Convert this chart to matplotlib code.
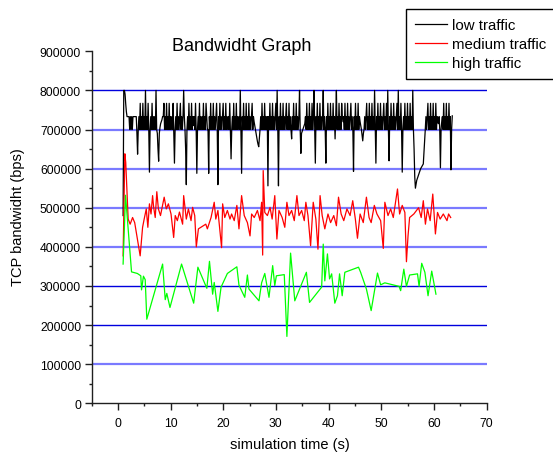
import numpy as np
import matplotlib
matplotlib.use("Agg")
import matplotlib.pyplot as plt
from matplotlib.ticker import MultipleLocator, FuncFormatter

plt.rcParams['font.family'] = ['Liberation Sans', 'DejaVu Sans']

# ---------------- data ----------------
series_names = ["low traffic", "medium traffic", "high traffic"]

# low traffic: sampled every 0.125 s from 1.0 s to 63.5 s (values in kbps)
low_t_start, low_t_step = 1.0, 0.125
low_kbps = [
    480, 800, 800, 790, 765, 745, 733, 733, 733, 733, 700, 733, 700, 733, 700, 733, 733, 733, 733, 733,
    733, 690, 637, 700, 733, 700, 767, 700, 733, 700, 767, 700, 733, 700, 800, 700, 733, 700, 767, 700,
    591, 700, 733, 700, 767, 700, 733, 700, 733, 700, 800, 700, 690, 650, 619, 690, 705, 715, 720, 725,
    733, 733, 767, 700, 733, 700, 767, 700, 733, 700, 767, 700, 733, 700, 733, 700, 767, 690, 614, 700,
    733, 700, 767, 700, 733, 700, 733, 767, 700, 733, 700, 733, 800, 733, 700, 650, 559, 700, 733, 700,
    767, 700, 733, 700, 767, 700, 733, 710, 733, 700, 767, 700, 588, 700, 733, 700, 767, 700, 733, 700,
    733, 700, 767, 700, 733, 700, 767, 733, 700, 700, 588, 733, 700, 767, 700, 733, 700, 767, 700, 733,
    700, 733, 767, 700, 559, 733, 700, 767, 700, 733, 700, 733, 767, 700, 733, 700, 767, 700, 733, 700,
    733, 700, 767, 690, 625, 700, 733, 700, 767, 700, 733, 700, 767, 700, 733, 700, 733, 700, 800, 700,
    588, 733, 700, 767, 700, 733, 700, 767, 700, 733, 700, 767, 700, 733, 700, 733, 767, 700, 733, 720,
    710, 700, 690, 680, 670, 662, 656, 680, 700, 733, 700, 767, 700, 733, 700, 767, 700, 733, 700, 733,
    556, 733, 700, 767, 700, 733, 700, 767, 700, 733, 700, 733, 767, 700, 800, 700, 556, 733, 700, 767,
    700, 733, 700, 767, 700, 733, 700, 733, 767, 700, 733, 700, 767, 700, 733, 700, 676, 733, 700, 767,
    700, 733, 700, 767, 700, 733, 700, 733, 800, 700, 639, 690, 695, 700, 705, 710, 715, 733, 700, 767,
    700, 733, 700, 767, 700, 733, 700, 767, 700, 733, 800, 700, 614, 733, 700, 767, 700, 733, 700, 767,
    700, 733, 700, 733, 800, 700, 733, 700, 614, 733, 700, 767, 700, 733, 700, 767, 700, 733, 700, 767,
    700, 733, 676, 733, 800, 700, 733, 700, 767, 700, 733, 700, 767, 733, 720, 733, 700, 767, 700, 733,
    700, 767, 700, 733, 700, 733, 767, 700, 733, 700, 593, 733, 700, 767, 700, 733, 700, 767, 700, 733,
    720, 710, 700, 685, 671, 690, 700, 733, 700, 733, 767, 700, 733, 700, 767, 700, 733, 700, 767, 700,
    733, 700, 800, 700, 614, 733, 700, 767, 700, 733, 700, 767, 700, 733, 700, 733, 767, 700, 733, 700,
    767, 700, 800, 700, 620, 733, 700, 767, 700, 733, 700, 767, 700, 733, 700, 733, 767, 700, 800, 700,
    733, 700, 767, 700, 591, 700, 733, 700, 767, 700, 733, 700, 767, 700, 733, 700, 767, 700, 733, 700,
    800, 700, 650, 580, 550, 560, 570, 575, 580, 585, 590, 595, 600, 603, 606, 609, 612, 640, 670, 700,
    733, 700, 733, 767, 700, 733, 700, 767, 700, 733, 700, 767, 700, 733, 700, 767, 700, 733, 720, 715,
    733, 700, 602, 700, 720, 733, 700, 767, 700, 733, 700, 767, 700, 733, 700, 767, 700, 733, 597, 700,
    735,
]

medium_t = [
    1.0, 1.33, 1.5, 1.96, 2.34, 2.8, 3.2, 4.24, 4.7, 5.0, 5.4, 5.7, 6.0, 6.3, 6.6, 6.8, 7.1, 7.4, 7.7, 8.1,
    8.8, 9.2, 9.6, 10.1, 10.6, 10.9, 11.3, 11.7, 12.3, 12.5, 13.0, 13.4, 13.9, 14.2, 14.6, 14.9, 15.3, 16.7,
    17.0, 17.7, 18.3, 18.6, 19.0, 19.7, 19.9, 20.3, 20.8, 21.3, 21.6, 22.1, 22.6, 23.0, 23.5, 24.0, 24.6,
    25.1, 25.4, 25.9, 26.5, 27.0, 27.3, 27.5, 27.6, 27.9, 28.4, 28.9, 29.3, 29.8, 30.2, 30.6, 31.2, 31.7,
    32.1, 32.5, 33.0, 33.5, 34.0, 34.4, 34.9, 35.4, 35.7, 36.1, 36.6, 37.1, 37.6, 38.0, 38.4, 38.8, 39.3,
    39.9, 40.4, 41.0, 41.5, 41.9, 42.4, 42.9, 43.5, 44.1, 44.6, 45.1, 45.5, 46.0, 46.6, 47.2, 47.7, 48.1,
    48.7, 49.2, 49.9, 50.4, 50.7, 51.3, 51.8, 52.3, 53.1, 53.5, 54.0, 54.5, 54.8, 55.1, 55.4, 56.2, 57.1,
    57.6, 58.0, 58.4, 58.8, 59.3, 59.8, 60.3, 60.7, 61.2, 61.8, 62.5, 62.8, 63.2,
]
medium_kbps = [
    377, 638, 616, 471, 458, 475, 462, 377, 450, 471, 497, 450, 510, 484, 531, 501, 475, 541, 497, 480,
    527, 497, 510, 484, 424, 480, 467, 489, 458, 531, 471, 497, 467, 501, 480, 400, 446, 458,
    446, 475, 514, 471, 493, 398, 510, 475, 493, 471, 484, 467, 506, 446, 531, 480, 462,
    428, 484, 475, 493, 467, 514, 379, 595, 488, 480, 501, 471, 531, 420, 493, 475, 450,
    514, 480, 493, 467, 531, 480, 493, 467, 514, 480, 403, 514, 471, 394, 531, 480, 446,
    484, 462, 480, 454, 527, 484, 467, 497, 480, 518, 471, 422, 484, 462, 527, 475, 462,
    506, 484, 467, 396, 514, 480, 497, 475, 548, 484, 506, 488, 362, 428, 475, 484, 500,
    475, 518, 458, 497, 467, 535, 433, 488, 471, 484, 467, 484, 475,
]

high_t = [
    1.0, 1.46, 2.6, 3.7, 4.36, 4.5, 4.86, 5.2, 5.5, 8.5, 9.0, 9.3, 9.9, 12.1, 14.4, 15.2, 16.9, 17.4,
    18.0, 18.3, 19.0, 19.6, 20.8, 22.6, 23.0, 24.1, 24.6, 24.9, 26.8, 27.3, 27.9, 28.7, 29.4, 29.8,
    30.1, 31.6, 32.1, 32.8, 33.6, 35.8, 36.4, 38.7, 39.0, 39.3, 39.8, 40.2, 40.6, 41.2, 41.7, 42.1,
    42.6, 43.1, 45.7, 46.1, 47.2, 48.1, 49.3, 49.9, 50.7, 53.4, 53.7, 54.3, 54.8, 55.4, 56.9, 57.2,
    57.7, 58.3, 58.9, 59.6, 60.4,
]
high_kbps = [
    356, 532, 336, 332, 326, 290, 325, 316, 215, 356, 265, 281, 245, 356, 256, 348, 294, 363,
    279, 309, 235, 297, 332, 349, 302, 271, 328, 292, 262, 308, 332, 271, 352, 301,
    326, 329, 171, 384, 262, 335, 258, 297, 407, 313, 382, 318, 331, 256, 275, 331,
    275, 335, 348, 335, 292, 237, 333, 303, 308, 299, 288, 343, 299, 328, 331, 299,
    358, 335, 275, 338, 279,
]

grid_levels = [100000, 200000, 300000, 400000, 500000, 600000, 700000, 800000]
x_ticks = [0, 10, 20, 30, 40, 50, 60, 70]

# ---------------- figure ----------------
W, H = 553, 456
fig = plt.figure(figsize=(W / 100, H / 100), dpi=100)
ax = fig.add_axes([91.5 / W, 1 - 404.3 / H, (486.5 - 91.5) / W, (404.3 - 52.3) / H])

low_t = low_t_start + low_t_step * np.arange(len(low_kbps))
low_v = np.array(low_kbps) * 1000
med_v = np.array(medium_kbps) * 1000
high_v = np.array(high_kbps) * 1000

# grid lines (blue)
light = {100000, 400000, 500000, 600000, 700000}
for lv in grid_levels:
    if lv in light:
        ax.axhline(lv, color='#7a7aff', lw=1.6, zorder=1)
    else:
        ax.axhline(lv, color='#0000dd', lw=1.0, zorder=1)

l1, = ax.plot(low_t, low_v, color='black', lw=0.9, zorder=3)
l2, = ax.plot(medium_t, med_v, color='#ff0000', lw=0.9, zorder=3)
l3, = ax.plot(high_t, high_v, color='#00ff00', lw=0.9, zorder=3)

ax.set_xlim(-5, 70)
ax.set_ylim(0, 900000)
ax.set_xticks(x_ticks)
ax.xaxis.set_minor_locator(MultipleLocator(5))
ax.yaxis.set_major_locator(MultipleLocator(100000))
ax.yaxis.set_minor_locator(MultipleLocator(50000))
ax.yaxis.set_major_formatter(FuncFormatter(lambda v, p: f"{int(round(v))}"))

for s in ['top', 'right']:
    ax.spines[s].set_visible(False)
for s in ['left', 'bottom']:
    ax.spines[s].set_linewidth(1.0)
    ax.spines[s].set_color('#202020')

ax.tick_params(axis='both', which='major', direction='out', length=5, width=1.0,
               labelsize=8.7, colors='#202020')
ax.tick_params(axis='both', which='minor', direction='out', length=2.5, width=1.0, colors='#202020')
ax.tick_params(axis='y', which='major', pad=2.5)
ax.tick_params(axis='x', which='major', pad=5)
for lab in ax.get_xticklabels() + ax.get_yticklabels():
    lab.set_color('black')

fig.text(242 / W, 1 - 51 / H, "Bandwidht Graph", ha='center', va='baseline', fontsize=13)
fig.text(18 / W, 1 - 217.5 / H, "TCP bandwidht (bps)", rotation=90, ha='center', va='center', fontsize=10.5)
fig.text(289.5 / W, 1 - 445 / H, "simulation time (s)", ha='center', va='center', fontsize=10.5)

leg = fig.legend([l1, l2, l3], series_names, loc='upper left',
                 bbox_to_anchor=(406 / W, 1 - 10 / H), bbox_transform=fig.transFigure,
                 fontsize=10.85, frameon=True, fancybox=False, shadow=False,
                 handlelength=2.1, handletextpad=0.35, labelspacing=0.33,
                 borderpad=0.6, borderaxespad=0)
leg.get_frame().set_edgecolor('black')
leg.get_frame().set_linewidth(1.0)
leg.get_frame().set_alpha(1)

fig.savefig("out.png", dpi=100)
